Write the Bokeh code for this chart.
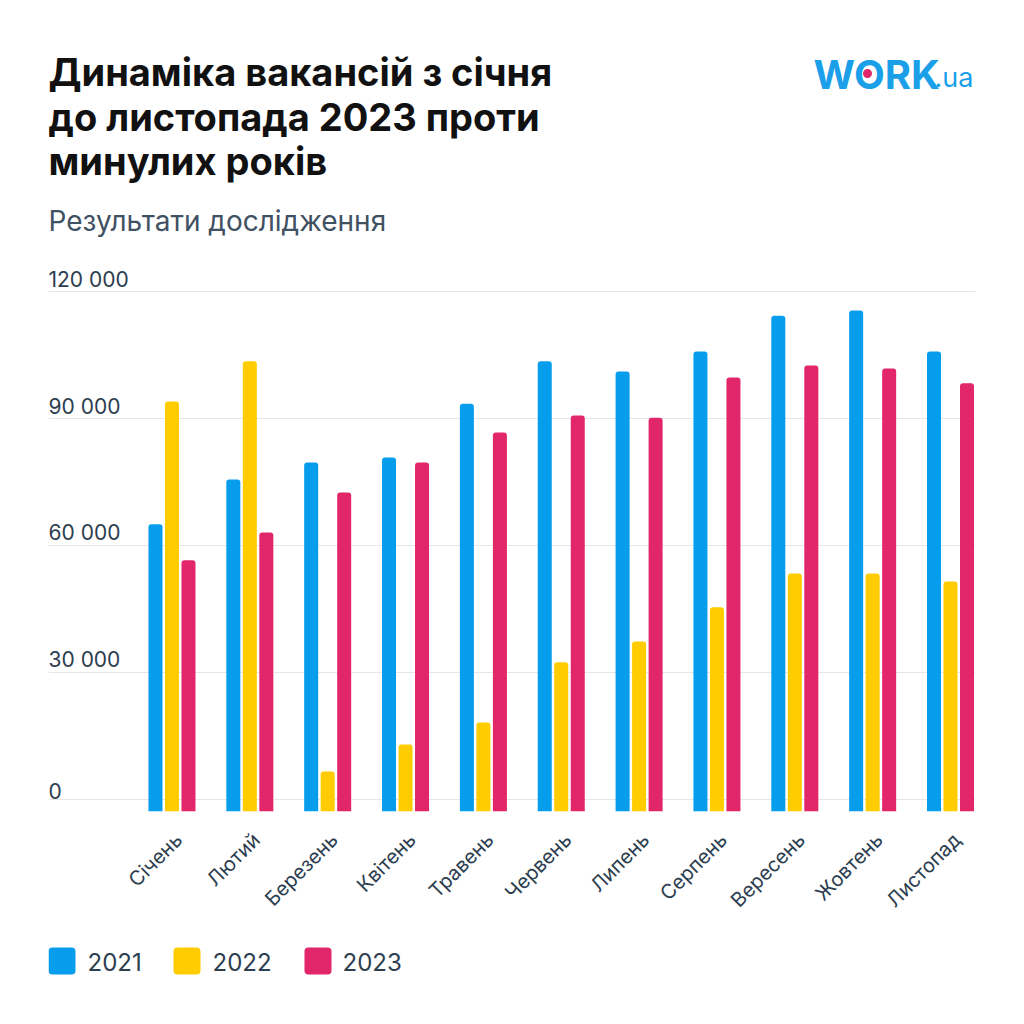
import math
from bokeh.plotting import figure
from bokeh.models import Range1d, FixedTicker
from bokeh.layouts import column
from bokeh.embed import file_html
from bokeh.resources import INLINE
from bokeh.core.properties import value

# ---------------- data ----------------
months = ["Січень", "Лютий", "Березень", "Квітень", "Травень", "Червень",
          "Липень", "Серпень", "Вересень", "Жовтень", "Листопад"]
years = ["2021", "2022", "2023"]
v2021 = [65000, 75600, 79600, 80800, 93500, 103500, 101100, 105800, 114300, 115500, 105800]
v2022 = [94000, 103500, 6600, 13000, 18200, 32400, 37300, 45400, 53400, 53400, 51500]
v2023 = [56500, 63100, 72500, 79600, 86700, 90700, 90200, 99700, 102500, 101800, 98300]
y_ticks = [0, 30000, 60000, 90000, 120000]
y_tick_labels = ["0", "30 000", "60 000", "90 000", "120 000"]

title_lines = ["Динаміка вакансій з січня", "до листопада 2023 проти", "минулих років"]
subtitle = "Результати дослідження"

# ---------------- styles ----------------
FONT = "Inter"
DARK = "#2c3e50"
C_BLUE = "#069ded"
C_YEL = "#ffcc00"
C_RED = "#e2266a"
colors = [C_BLUE, C_YEL, C_RED]
W = 1008
LEFT, RIGHT = 48, 975          # frame edges shared by all three panels

def panel(height, y_top, y_bottom):
    f = figure(width=W, height=height, x_range=Range1d(LEFT, RIGHT),
               y_range=Range1d(y_bottom, y_top), output_backend="svg",
               toolbar_location=None, min_border_left=LEFT, min_border_right=W - RIGHT,
               min_border_top=0, min_border_bottom=0,
               x_axis_location=None, y_axis_location=None)
    f.grid.visible = False
    f.outline_line_color = None
    return f

# ---------------- header ----------------
h = panel(260, 0, 260)
h.text(x=[48, 48, 48], y=[71, 116, 160.5], text=title_lines, text_font=value(FONT),
       text_font_style="bold", text_font_size="38px", text_color="#111111",
       text_baseline="middle", text_align="left")
h.text(x=[48], y=[220], text=[subtitle], text_font=value(FONT),
       text_font_size="28px", text_color="#3f5163",
       text_baseline="middle", text_align="left")
# logo
h.text(x=[813], y=[73.5], text=["WORK"], text_font=value(FONT), text_font_style="bold",
       text_font_size="40px", text_color="#1a9fe8", text_baseline="middle")
h.text(x=[934], y=[77], text=[".ua"], text_font=value(FONT),
       text_font_size="27px", text_color="#1a9fe8", text_baseline="middle")
h.scatter(x=[867], y=[73], size=9, marker="circle", fill_color=C_RED, line_color=None)

# ---------------- chart ----------------
X0, X1 = -1.586, 10.321
Y0, Y1 = -2835, 126142
p = figure(width=W, height=670, x_range=Range1d(X0, X1), y_range=Range1d(Y0, Y1),
           output_backend="svg", toolbar_location=None,
           min_border_left=LEFT, min_border_right=W - RIGHT, min_border_top=5,
           min_border_bottom=119, y_axis_location=None)
p.outline_line_color = None
p.xgrid.visible = False
p.ygrid.ticker = FixedTicker(ticks=y_ticks)
p.ygrid.grid_line_color = "#e6e6e6"
p.ygrid.grid_line_width = 1

xs = list(range(len(months)))
offs = [-0.212, 0.0, 0.212]
for vals, col, off in zip([v2021, v2022, v2023], colors, offs):
    p.vbar(x=[x + off for x in xs], top=vals, bottom=Y0, width=0.18,
           fill_color=col, line_color=None, border_radius=(3, 3, 0, 0))

p.text(x=[X0] * len(y_ticks), y=y_ticks, text=y_tick_labels, text_align="left",
       text_baseline="bottom", text_font=value(FONT), text_font_size="21px",
       text_color=DARK)

label_ticks = [x + 0.085 for x in xs]
p.xaxis.ticker = FixedTicker(ticks=label_ticks)
p.xaxis.major_label_overrides = {t: m for t, m in zip(label_ticks, months)}
p.xaxis.major_label_orientation = math.pi / 4
p.xaxis.axis_line_color = None
p.xaxis.major_tick_line_color = None
p.xaxis.minor_tick_line_color = None
p.xaxis.major_label_text_font = FONT
p.xaxis.major_label_text_font_size = "20px"
p.xaxis.major_label_text_color = DARK
p.xaxis.major_label_standoff = 19

# ---------------- legend ----------------
lg = panel(78, 930, 1008)
sq_left = [48, 173, 304]
txt_left = [87, 212, 342]
lg.quad(left=sq_left, right=[s + 27 for s in sq_left], top=[947] * 3, bottom=[974] * 3,
        fill_color=colors, line_color=None, border_radius=4)
lg.text(x=txt_left, y=[961] * 3, text=years, text_font=value(FONT), text_font_size="24px",
        text_color=DARK, text_baseline="middle", text_align="left")

layout = column(h, p, lg, spacing=0)
open("out.html", "w").write(file_html(layout, INLINE))
